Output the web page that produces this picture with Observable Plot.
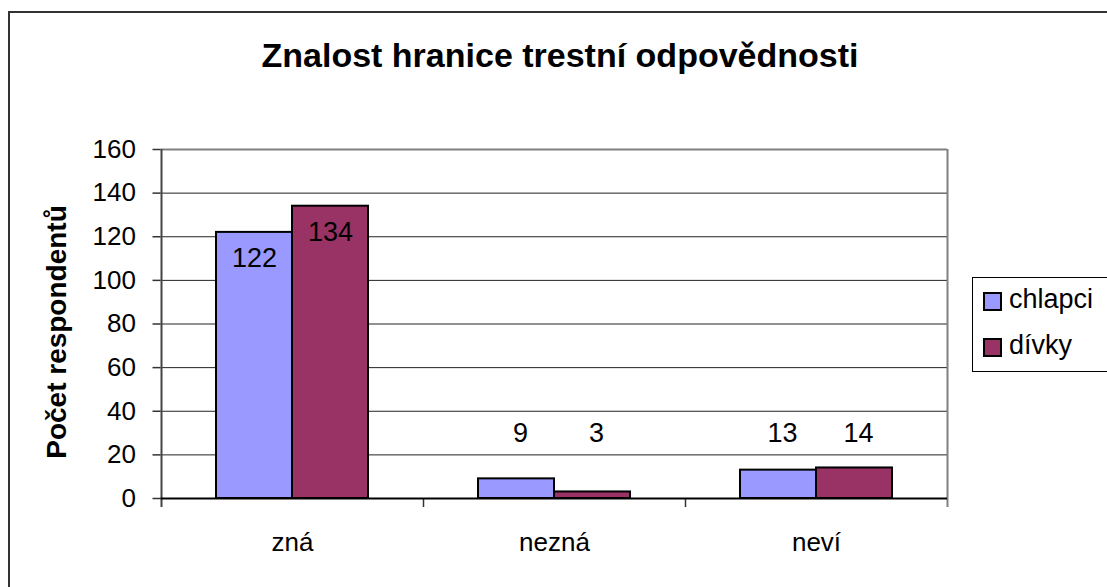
<!DOCTYPE html>
<html>
<head>
<meta charset="utf-8">
<script src="https://cdn.jsdelivr.net/npm/d3@7"></script>
<script src="https://cdn.jsdelivr.net/npm/@observablehq/plot@0.6"></script>
<style>
  body { margin: 0; background: #fff; }
  #wrap { position: relative; width: 1107px; height: 587px; overflow: hidden; background: #fff; font-family: "Liberation Sans", Arial, sans-serif; }
  #wrap svg { position: absolute; left: 0; top: 0; }
  #outer { position: absolute; left: 8px; top: 11px; width: 1200px; height: 700px; border: 2px solid #333; box-sizing: border-box; }
  #title { position: absolute; left: 0; top: 38px; width: 1120px; text-align: center; font-weight: bold; font-size: 34px; line-height: 34px; color: #000; }
  #ylab { position: absolute; left: -143.5px; top: 318px; width: 400px; text-align: center; font-weight: bold; font-size: 28px; line-height: 28px; transform: rotate(-90deg); transform-origin: 50% 50%; color: #000; }
  #legend { position: absolute; left: 972px; top: 277px; width: 160px; height: 95px; border: 1px solid #000; box-sizing: border-box; }
  .sw { position: absolute; left: 10px; width: 15px; height: 15px; border: 2px solid #000; }
  .lt { position: absolute; left: 36px; font-size: 27px; line-height: 27px; color: #000; white-space: nowrap; }
</style>
</head>
<body>
<div id="wrap">
  <div id="outer"></div>
  <div id="chart"></div>
  <div id="title">Znalost hranice trestní odpovědnosti</div>
  <div id="ylab">Počet respondentů</div>
  <div id="legend"></div>
</div>
<script>
const categories = ["zná", "nezná", "neví"];
const seriesNames = ["chlapci", "dívky"];
const chlapci = [122, 9, 13];
const divky = [134, 3, 14];
const yTicks = [0, 20, 40, 60, 80, 100, 120, 140, 160];
const colors = ["#9999FF", "#993366"];

const rows = [];
categories.forEach((c, i) => {
  rows.push({cat: c, series: seriesNames[0], value: chlapci[i]});
  rows.push({cat: c, series: seriesNames[1], value: divky[i]});
});

const half = 131, barW = 76;
const isA = d => d.series === seriesNames[0];
const isB = d => d.series === seriesNames[1];
const big = d => d.value >= 50;
const small = d => d.value < 50;

const chart = Plot.plot({
  width: 1107,
  height: 587,
  marginLeft: 160.5,
  marginRight: 160,
  marginTop: 149,
  marginBottom: 89,
  x: {domain: categories, padding: 0, axis: null, label: null},
  y: {domain: [0, 160], axis: null, label: null},
  style: {fontFamily: "'Liberation Sans', Arial, sans-serif", fontSize: "26px", background: "transparent", color: "#000"},
  marks: [
    Plot.gridY(yTicks.filter(t => t > 0 && t < 160), {stroke: "#222", strokeOpacity: 1, strokeWidth: 1}),
    Plot.ruleY([160], {stroke: "#808080", strokeWidth: 2}),
    Plot.ruleX([categories[categories.length - 1]], {dx: half, stroke: "#808080", strokeWidth: 2, insetBottom: -9}),
    Plot.ruleX(categories.slice(1), {dx: -half, y1: 0, y2: 0, insetBottom: -9, stroke: "#333", strokeWidth: 1.5}),
    Plot.ruleX([categories[0]], {dx: -half, stroke: "#444", strokeWidth: 2, insetBottom: -9}),
    Plot.axisY(yTicks, {tickSize: 8, tickPadding: 17, fontSize: 26, stroke: "#333", strokeWidth: 1.5, label: null}),
    Plot.axisX({tickSize: 0, tickPadding: 34, fontSize: 26, label: null}),
    Plot.barY(rows.filter(isA), {x: "cat", y: "value", fill: colors[0], stroke: "#000", strokeWidth: 2, insetLeft: half - barW, insetRight: half}),
    Plot.barY(rows.filter(isB), {x: "cat", y: "value", fill: colors[1], stroke: "#000", strokeWidth: 2, insetLeft: half, insetRight: half - barW}),
    Plot.ruleY([0], {stroke: "#000", strokeWidth: 2}),
    Plot.text(rows.filter(d => isA(d) && big(d)), {x: "cat", y: "value", text: d => String(d.value), dx: -barW / 2, dy: 26, fontSize: 27, fill: "#000"}),
    Plot.text(rows.filter(d => isB(d) && big(d)), {x: "cat", y: "value", text: d => String(d.value), dx: barW / 2, dy: 26, fontSize: 27, fill: "#000"}),
    Plot.text(rows.filter(d => isA(d) && small(d)), {x: "cat", y: () => 30, text: d => String(d.value), dx: -barW / 2 + 4, fontSize: 27, fill: "#000"}),
    Plot.text(rows.filter(d => isB(d) && small(d)), {x: "cat", y: () => 30, text: d => String(d.value), dx: barW / 2 + 4, fontSize: 27, fill: "#000"})
  ]
});
document.getElementById("chart").appendChild(chart);

const legend = document.getElementById("legend");
seriesNames.forEach((name, i) => {
  const sw = document.createElement("div");
  sw.className = "sw";
  sw.style.top = (14 + i * 46) + "px";
  sw.style.background = colors[i];
  legend.appendChild(sw);
  const t = document.createElement("div");
  t.className = "lt";
  t.style.top = (8 + i * 46) + "px";
  t.textContent = name;
  legend.appendChild(t);
});
</script>
</body>
</html>
